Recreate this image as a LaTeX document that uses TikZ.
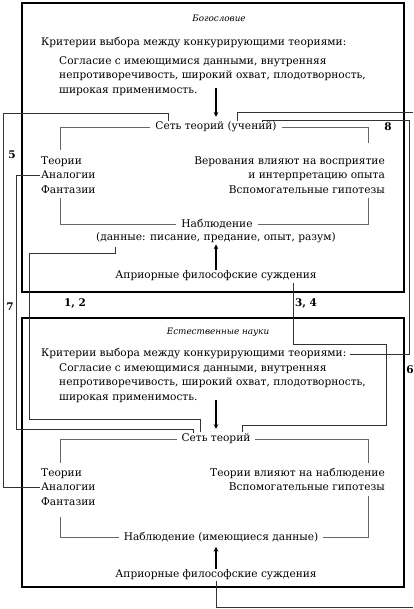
\documentclass[tikz,border=0pt]{standalone}
\usepackage{fontspec}
\setmainfont{DejaVu Serif}
\begin{document}
\begin{tikzpicture}[x=1pt,y=-1pt,
  txt/.style={inner sep=1pt,font=\fontsize{10.6}{14.5}\selectfont},
  gap/.style={outer sep=4pt},
  ttl/.style={inner sep=1pt,font=\fontsize{8.8}{10}\selectfont\itshape},
  num/.style={inner sep=0pt,font=\fontsize{10.5}{12}\selectfont\bfseries},
  boxline/.style={line width=1.1pt},
  loopline/.style={black!60,line width=0.5pt},
  linkline/.style={black!80,line width=0.5pt},
  arr/.style={line width=1.1pt,-stealth}]
    \useasboundingbox (0,0) rectangle (413,609);
    % 枠
    \draw[boxline] (22,3) rectangle (404,292);
    \draw[boxline] (22,318) rectangle (404,587);
    % 上の枠
    \node[ttl] (title1) at (219,18) {Богословие};
    \node[txt,anchor=west] (crit1) at (40,43) {Критерии выбора между конкурирующими теориями:};
    \node[txt,anchor=west,align=left] (agree1) at (58,76) {Согласие с имеющимися данными, внутренняя\\непротиворечивость, широкий охват, плодотворность,\\широкая применимость.};
    \node[txt,gap] (net1) at (216,127) {Сеть теорий (учений)};
    \node[txt,anchor=west,align=left] (left1) at (40,175) {Теории\\Аналогии\\Фантазии};
    \node[txt,anchor=east,align=right] (right1) at (386,175) {Верования влияют на восприятие\\и интерпретацию опыта\\Вспомогательные гипотезы};
    \node[txt,gap] (obs1) at (217,224) {Наблюдение};
    \node[txt] (data1) at (216,238) {(данные: писание, предание, опыт, разум)};
    \node[txt] (apr1) at (216,276) {Априорные философские суждения};
    % 下の枠
    \node[ttl] (title2) at (218,332) {Естественные науки};
    \node[txt,anchor=west] (crit2) at (40,354) {Критерии выбора между конкурирующими теориями:};
    \node[txt,anchor=west,align=left] (agree2) at (58,383) {Согласие с имеющимися данными, внутренняя\\непротиворечивость, широкий охват, плодотворность,\\широкая применимость.};
    \node[txt,gap] (net2) at (216,439) {Сеть теорий};
    \node[txt,anchor=west,align=left] (left2) at (40,487) {Теории\\Аналогии\\Фантазии};
    \node[txt,anchor=east,align=right] (right2) at (386,479.5) {Теории влияют на наблюдение\\Вспомогательные гипотезы};
    \node[txt,gap] (obs2) at (221,537) {Наблюдение (имеющиеся данные)};
    \node[txt] (apr2) at (216,575) {Априорные философские суждения};
    % 番号
    \node[num] (n5) at (12,155) {5};
    \node[num] (n7) at (10,307) {7};
    \node[num] (n12) at (75,303) {1, 2};
    \node[num] (n34) at (306,303) {3, 4};
    \node[num] (n6) at (410,370) {6};
    \node[num] (n8) at (388,127) {8};
    % 矢印
    \coordinate (crit1end) at (216,88);
    \coordinate (crit2end) at (216,400);
    \draw[arr] (crit1end)--(net1.north);
    \draw[arr] (apr1.north)--(data1.south);
    \draw[arr] (crit2end)--(net2.north);
    \draw[arr] (apr2.north)--(apr2.north |- obs2.south);
    % 内側の線
    \draw[loopline] (net1.west)-|(60,150);
    \draw[loopline] (60,198)|-(obs1.west);
    \draw[loopline] (net1.east)-|(368,143);
    \draw[loopline] (368,198)|-(obs1.east);
    \draw[loopline] (net2.west)-|(60,463);
    \draw[loopline] (60,517)|-(obs2.west);
    \draw[loopline] (net2.east)-|(368,463);
    \draw[loopline] (368,496)|-(obs2.east);
    % 枠の間の線
    \coordinate (net1a) at (168,121);
    \coordinate (net1b) at (237,121);
    \coordinate (net1c) at (262,122);
    \coordinate (net2a) at (193,433);
    \coordinate (net2b) at (200,432);
    \coordinate (net2c) at (242,432);
    \coordinate (data1a) at (115,247);
    \coordinate (apr1a) at (293,283);
    \draw[linkline] (left2.west)--(3,487)--(3,113)--(168,113)--(net1a);%7
    \draw[linkline] (net1b)--(237,112)--(413,112);%8
    \draw[linkline] (apr2.south)--(216,607)--(413,607);
    \draw[linkline,shorten <=3pt] (crit2.east)--(409,354)--(409,120)--(262,120)--(net1c);%6
    \draw[linkline] (left1.west)--(16,175)--(16,429)--(193,429)--(net2a);%5
    \draw[linkline] (data1a)--(115,253)--(29,253)--(29,419)--(200,419)--(net2b);%1,2
    \draw[linkline] (apr1a)--(293,344)--(386,344)--(386,425)--(242,425)--(net2c);%3,4
\end{tikzpicture}
\end{document}
